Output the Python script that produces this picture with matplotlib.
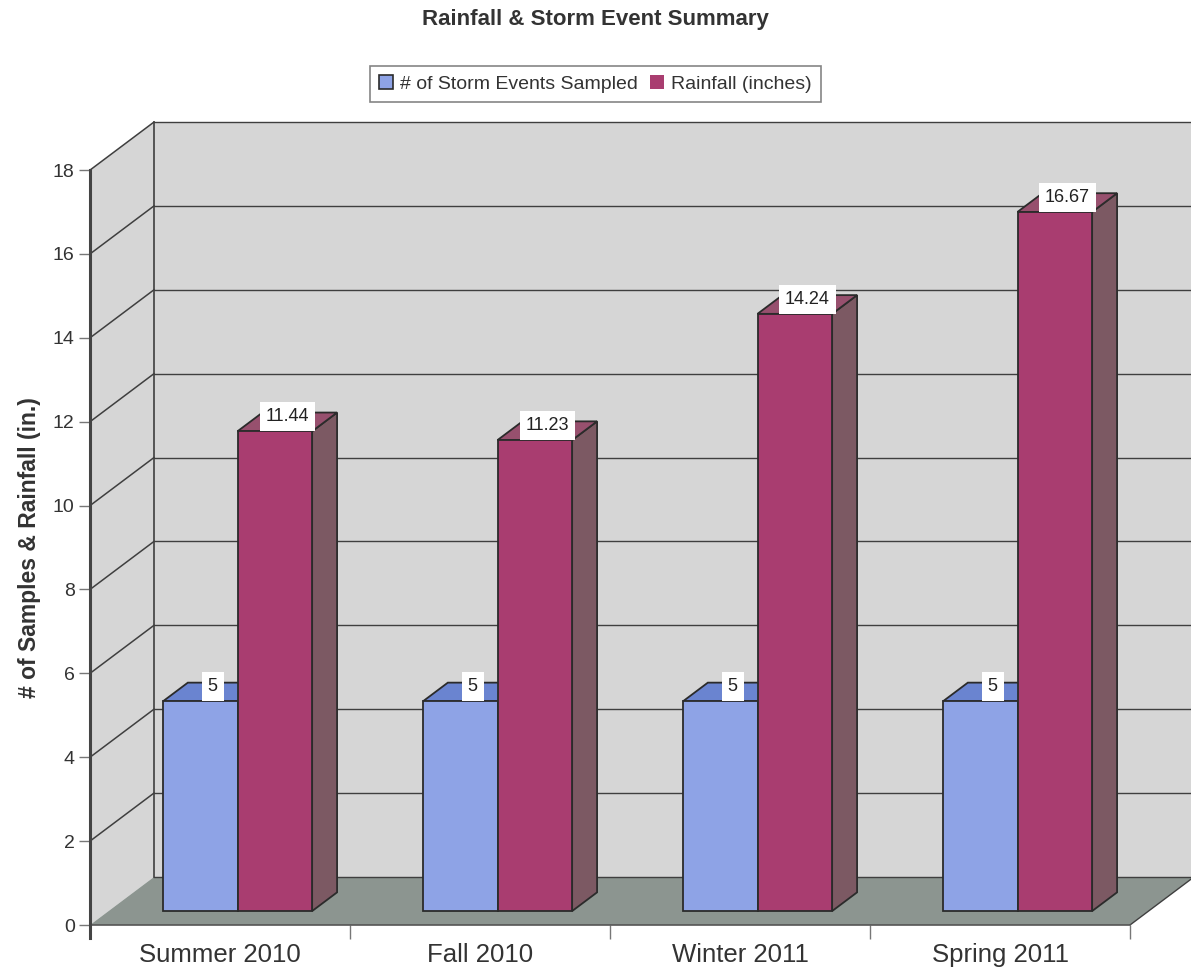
import matplotlib
matplotlib.use('Agg')
import numpy as np
import matplotlib.pyplot as plt
from matplotlib.patches import Polygon, Patch

plt.rcParams['font.family'] = ['Liberation Sans', 'DejaVu Sans']

# data
seasons = ['Summer 2010', 'Fall 2010', 'Winter 2011', 'Spring 2011']
storm_events = [5, 5, 5, 5]
rainfall = [11.44, 11.23, 14.24, 16.67]
series_names = ['# of Storm Events Sampled', 'Rainfall (inches)']

# colours (front, top, side)
blue = ('#8ea3e6', '#6a84d0', '#5a6fae')
red = ('#a93d70', '#97506e', '#7c5963')
wall_c = '#d6d6d6'
floor_c = '#8c9590'
edge_c = '#2b2b2b'
grid_c = '#3f3f3f'
txt_c = '#333333'

# fake 3d depth (in data units)
DX, DY = 0.246, 1.145
F0, F1 = 0.29, 0.68          # bar depth, fraction of floor depth
BW = 0.287                   # bar width
XOFF = 0.209                 # first bar offset inside a category
YMAX = 18


def proj(x, v, f):
    return (x + f * DX, v + f * DY)


fig = plt.figure(figsize=(11.91, 9.74), dpi=100)
ax = fig.add_axes([90 / 1191, 49 / 974, 1101 / 1191, 807 / 974])
ax.set_xlim(0, 1101 / 260)
ax.set_ylim(0, 807 / 41.94)
ax.patch.set_visible(False)

ncat = len(seasons)
xr = ncat + 1.0

# walls and floor
ax.add_patch(Polygon([proj(0, 0, 0), proj(0, 0, 1), proj(0, YMAX, 1), proj(0, YMAX, 0)],
                     closed=True, fc=wall_c, ec='none', zorder=0))
ax.add_patch(Polygon([proj(0, 0, 1), proj(xr, 0, 1), proj(xr, YMAX, 1), proj(0, YMAX, 1)],
                     closed=True, fc=wall_c, ec='none', zorder=0))
ax.add_patch(Polygon([proj(0, 0, 0), proj(ncat, 0, 0), proj(ncat, 0, 1), proj(0, 0, 1)],
                     closed=True, fc=floor_c, ec='none', zorder=1))
ax.plot(*zip(proj(ncat, 0, 0), proj(ncat, 0, 1)), color=grid_c, lw=1, zorder=2)

# gridlines on side and back walls
for v in range(0, YMAX + 1, 2):
    if v > 0:
        ax.plot(*zip(proj(0, v, 0), proj(0, v, 1)), color=grid_c, lw=1.1, zorder=2)
    ax.plot(*zip(proj(0, v, 1), proj(xr, v, 1)), color=grid_c, lw=1.0, zorder=2)
ax.plot(*zip(proj(0, 0, 1), proj(0, YMAX, 1)), color=grid_c, lw=1.2, zorder=2)


def bar3d(x0, h, cols):
    side = [proj(x0 + BW, 0, F0), proj(x0 + BW, 0, F1), proj(x0 + BW, h, F1), proj(x0 + BW, h, F0)]
    top = [proj(x0, h, F0), proj(x0 + BW, h, F0), proj(x0 + BW, h, F1), proj(x0, h, F1)]
    front = [proj(x0, 0, F0), proj(x0 + BW, 0, F0), proj(x0 + BW, h, F0), proj(x0, h, F0)]
    for pts, c in ((side, cols[2]), (top, cols[1]), (front, cols[0])):
        ax.add_patch(Polygon(pts, closed=True, fc=c, ec=edge_c, lw=1.3, zorder=3))
    lx, _ = proj(x0 + BW / 2, h, (F0 + F1) / 2)
    _, ly = proj(x0, h, F0)
    lab = f'{h:g}' if float(h).is_integer() else f'{h:.2f}'
    ax.annotate(lab, (lx, ly), xytext=(0, 4.4), textcoords='offset points',
                ha='center', va='bottom', fontsize=13, color='#222222', zorder=5,
                bbox=dict(boxstyle='square,pad=0.33', fc='white', ec='none'))


for i in range(ncat):
    bar3d(i + XOFF, storm_events[i], blue)
    bar3d(i + XOFF + BW, rainfall[i], red)

# axes styling
for s in ['top', 'right']:
    ax.spines[s].set_visible(False)
ax.spines['left'].set_bounds(-0.3, YMAX)
ax.spines['left'].set_color('#444444')
ax.spines['left'].set_linewidth(2.2)
ax.spines['left'].set_zorder(4)
ax.spines['bottom'].set_bounds(0, ncat)
ax.spines['bottom'].set_color('#555555')
ax.spines['bottom'].set_linewidth(1.2)

ax.set_yticks(range(0, YMAX + 1, 2))
ax.tick_params(axis='y', length=8, width=1, color='#777777', pad=3,
               labelsize=14, labelcolor=txt_c)
ax.set_xticks(range(1, ncat + 1))
ax.set_xticklabels([])
ax.tick_params(axis='x', which='major', length=10, width=1, color='#777777')
ax.set_xticks(np.arange(ncat) + 0.5, minor=True)
ax.set_xticklabels(seasons, minor=True)
ax.tick_params(axis='x', which='minor', length=0, pad=13, labelsize=18.5, labelcolor=txt_c)

fig.text(30 / 1191, 1 - 548 / 974, '# of Samples & Rainfall (in.)', rotation=90,
         ha='center', va='center', fontsize=16.5, fontweight='bold', color=txt_c)
fig.text(0.5, 1 - 20 / 974, 'Rainfall & Storm Event Summary', ha='center', va='center',
         fontsize=16, fontweight='bold', color=txt_c)

handles = [Patch(fc=blue[0], ec=edge_c, lw=1.2), Patch(fc=red[0], ec='none')]
leg = fig.legend(handles, series_names, loc='center', bbox_to_anchor=(0.5, 1 - 84 / 974),
                 ncol=2, fontsize=14, frameon=True, fancybox=False, edgecolor='#666666',
                 handlelength=0.7, handleheight=0.7, handletextpad=0.4, columnspacing=0.6,
                 borderpad=0.45, labelcolor=txt_c)
leg.get_frame().set_linewidth(1.2)

fig.savefig('out.png', dpi=100)
